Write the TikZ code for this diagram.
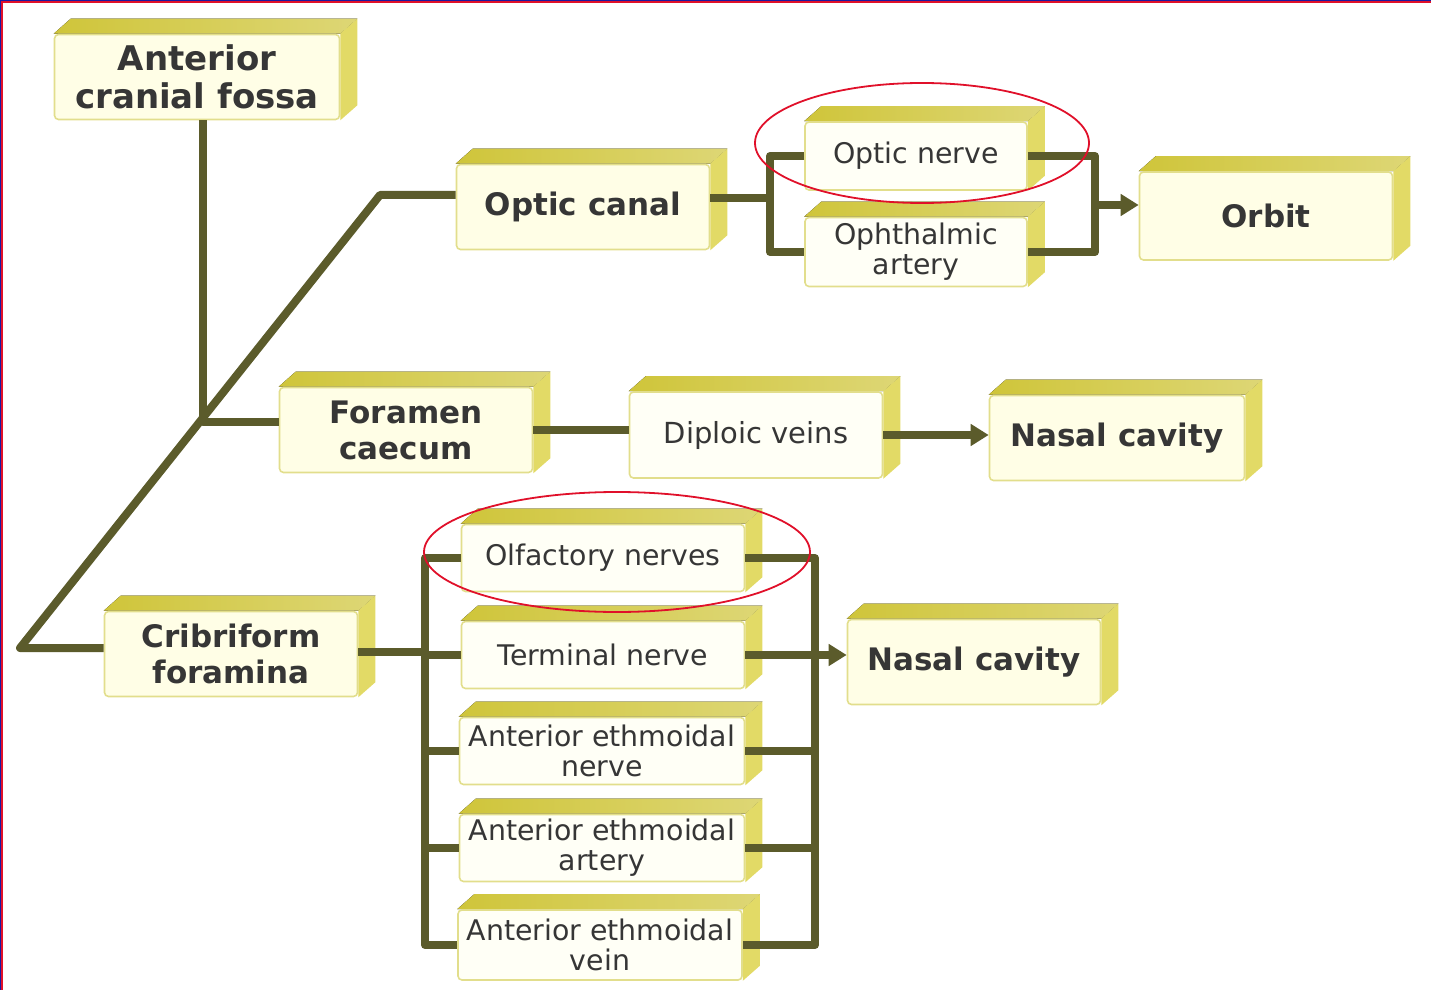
\documentclass[tikz,border=0pt]{standalone}
\usepackage{fontspec}
\setmainfont{DejaVu Sans}
\definecolor{LINKolive}{HTML}{5B5B2B}
\definecolor{BOXtop}{HTML}{CFC53A}
\definecolor{BOXside}{HTML}{E2DA66}
\definecolor{BOXedge}{HTML}{E2DE8C}
\definecolor{BOXmain}{HTML}{FFFEE6}
\definecolor{BOXsub}{HTML}{FFFFF6}
\definecolor{BOXtext}{HTML}{363636}
\definecolor{RINGred}{HTML}{E0102A}
\definecolor{FRAMEblue}{HTML}{1A1AA0}
\usetikzlibrary{arrows.meta, calc, backgrounds}

% top and right faces behind a box
\newcommand\extrudebox[1]{%
   \fill[left color=BOXtop, right color=BOXtop!70!white]
      (#1.north west) -- ++(17,-15) -- ($(#1.north east)+(17,-15)$) -- (#1.north east) -- cycle;
   \fill[BOXside]
      (#1.north east) -- ++(17,-15) -- ($(#1.south east)+(17,-15)$) -- (#1.south east) -- cycle;}

\begin{document}
\begin{tikzpicture}[x=0.5pt, y=-0.5pt,
   box/.style={draw=BOXedge, line width=0.8pt, rounded corners=2pt, align=center,
      text=BOXtext, inner sep=0pt},
   mainbox/.style={box, fill=BOXmain, font=\bfseries\fontsize{15.5}{18}\selectfont,
      minimum width=126.5pt, minimum height=42.5pt},
   subbox/.style={box, fill=BOXsub, font=\fontsize{14.2}{15}\selectfont,
      minimum width=141.5pt, minimum height=33.5pt},
   link/.style={draw=LINKolive, line width=4pt, line join=round},
   linkarrow/.style={link, -{Triangle[length=9pt, width=10.5pt]}},
   redring/.style={draw=RINGred, line width=0.9pt}]
   \useasboundingbox (0,0) rectangle (1431,990);
   % slide frame
   \fill[RINGred] (0,0) rectangle (1431,3);
   \fill[RINGred] (0,0) rectangle (3,990);
   \fill[FRAMEblue] (0,0) rectangle (1431,1.2);
   \fill[FRAMEblue] (0,0) rectangle (1.2,990);

   % main boxes
   \node[mainbox, font=\bfseries\fontsize{17}{19}\selectfont, minimum width=142.5pt] (ACF) at (197,77) {Anterior\\cranial fossa};
   \node[mainbox] (OC) at (583,207) {Optic canal};
   \node[mainbox, minimum height=44pt] (ORB) at (1266,216) {Orbit};
   \node[mainbox] (FC) at (406,430) {Foramen\\caecum};
   \node[mainbox, fill=BOXsub, font=\fontsize{14.5}{17}\selectfont, minimum height=43pt] (DV) at (756,435) {Diploic veins};
   \node[mainbox, minimum width=127.5pt] (NC1) at (1117,438) {Nasal cavity};
   \node[mainbox] (CF) at (231,654) {Cribriform\\foramina};
   \node[mainbox] (NC2) at (974,662) {Nasal cavity};

   % small boxes
   \node[subbox, minimum width=111pt, minimum height=34pt] (ON) at (916,156) {Optic nerve};
   \node[subbox, minimum width=111pt, minimum height=34.5pt] (OA) at (916,252) {Ophthalmic\\artery};
   \node[subbox] (OLF) at (603,558) {Olfactory nerves};
   \node[subbox] (TN) at (603,655) {Terminal nerve};
   \node[subbox, minimum width=142.5pt] (AEN) at (602,751) {Anterior ethmoidal\\nerve};
   \node[subbox, minimum width=142.5pt] (AEA) at (602,848) {Anterior ethmoidal\\artery};
   \node[subbox, minimum width=142pt, minimum height=35pt] (AEV) at (600,945) {Anterior ethmoidal\\vein};

   % 3D faces
   \begin{scope}[on background layer]
      \foreach \b in {ACF, OC, ORB, FC, DV, NC1, CF, NC2, ON, OA, OLF, TN, AEN, AEA, AEV}
         {\extrudebox{\b}}
   \end{scope}

   % junctions
   \coordinate (hub) at (203,422);
   \coordinate (bend) at (380,195);
   \coordinate (low) at (20,648);
   \coordinate (ocsplit) at (770,198);
   \coordinate (ojoin) at (1095,205);
   \coordinate (cfsplit) at (425,652);
   \coordinate (rjoin) at (815,657);

   % stem and branches
   \draw[link] (hub |- ACF.south) -- (hub) -- (hub -| FC.west);
   \draw[link] (CF.west |- low) -- (low) -- (bend) -- (OC.west |- bend);
   % optic canal
   \draw[link] (OC.east |- ocsplit) -- (ocsplit);
   \draw[link] (ON.west) -| (ocsplit) |- (OA.west);
   \draw[link] (ON.east) -| (ojoin) |- (OA.east);
   \draw[linkarrow] (ojoin) -- (ORB.west |- ojoin);
   % foramen caecum
   \draw[link] (FC.east) -- (FC.east -| DV.west);
   \draw[linkarrow] (DV.east) -- (DV.east -| NC1.west);
   % cribriform foramina
   \draw[link] (CF.east |- cfsplit) -- (cfsplit);
   \draw[link] (OLF.west) -| (cfsplit) |- (AEV.west);
   \foreach \n in {TN, AEN, AEA}
      \draw[link] (cfsplit |- \n.west) -- (\n.west);
   \draw[link] (OLF.east) -| (rjoin) |- (AEV.east);
   \foreach \n in {AEN, AEA}
      \draw[link] (\n.east) -- (rjoin |- \n.east);
   \draw[linkarrow] (TN.east) -- (TN.east -| NC2.west);

   % highlights
   \draw[redring] (922,143) ellipse [x radius=83.5pt, y radius=30pt];
   \draw[redring] (617,552) ellipse [x radius=96.5pt, y radius=30pt];
\end{tikzpicture}
\end{document}
